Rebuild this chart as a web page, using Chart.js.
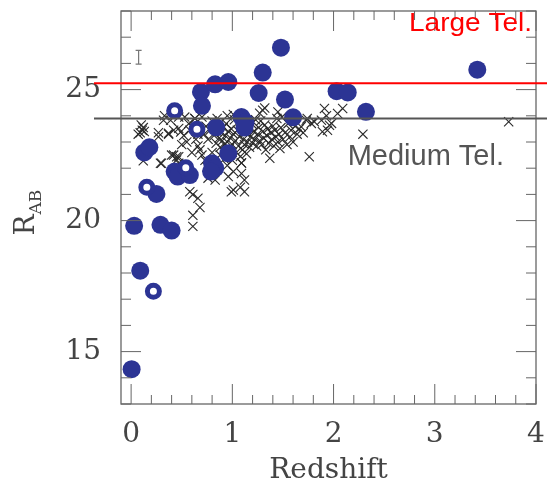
<!DOCTYPE html>
<html>
<head>
<meta charset="utf-8">
<script src="https://cdn.jsdelivr.net/npm/chart.js@4/dist/chart.umd.min.js"></script>
<style>
  html, body { margin: 0; padding: 0; background: #fff; }
  canvas { display: block; }
</style>
</head>
<body>
<canvas id="chart" width="547" height="488"></canvas>
<script>
// tick values
const xTicks = [0, 1, 2, 3, 4];
const yTicks = [15, 20, 25];

// telescope limits (R_AB)
const largeTelLimit = 25.24;
const mediumTelLimit = 23.9;

// filled circles [redshift, R_AB]
const filledZ = [0.005, 0.03, 0.09, 0.29, 0.40, 0.13, 0.18, 0.25, 0.43, 0.46, 0.58, 0.80, 0.83, 0.79, 0.96,
  0.69, 0.70, 0.83, 0.96, 1.09, 1.13, 1.12, 0.84, 1.48, 1.30, 1.26, 1.52, 1.60, 2.03, 2.14, 2.32, 3.42];
const filledR = [14.33, 19.8, 18.09, 19.84, 19.62, 22.6, 22.8, 21.02, 21.87, 21.68, 21.74, 22.19, 22.0, 21.87, 22.57,
  24.91, 24.38, 25.2, 25.29, 23.95, 23.75, 23.55, 23.56, 26.6, 25.65, 24.87, 24.62, 23.94, 24.94, 24.89, 24.15, 25.76];

// open circles
const openZ = [0.43, 0.65, 0.155, 0.54, 0.22];
const openR = [24.19, 23.49, 21.27, 22.02, 17.3];

// crosses
const crossZ = [
  0.10, 0.12, 0.11, 0.09, 0.13, 0.12, 0.07,
  0.27, 0.32, 0.39, 0.42, 0.47, 0.37, 0.63, 0.58, 0.29, 0.40, 0.45, 0.47, 0.30, 0.42, 0.47, 0.45,
  0.27, 0.37, 0.49, 0.66,
  0.70, 0.74, 0.72, 0.76, 0.78, 0.80, 0.82, 0.84, 0.85, 0.86, 0.87, 0.88, 0.89, 0.90, 0.91, 0.92,
  0.93, 0.94, 0.95, 0.96, 0.97, 0.98, 0.99, 1.00, 1.01, 1.02, 1.03, 1.04, 1.05, 1.06, 1.07, 1.08,
  1.09, 1.10, 1.11, 1.12, 1.13, 1.14, 1.15, 1.16, 1.17, 1.18, 1.19, 1.20, 1.21, 1.22, 1.23, 1.24,
  1.25, 1.26, 1.27, 1.28, 1.29, 1.30, 1.31, 1.32, 1.33, 1.34, 1.35, 1.36, 1.37, 1.38, 1.39, 1.40,
  1.41, 1.42, 1.43, 1.44, 1.45, 1.46, 1.47, 1.48, 1.50, 1.52, 1.54, 1.55, 1.57, 1.58, 1.60, 1.62,
  1.64, 1.66,
  0.62, 0.64, 0.66, 0.60, 0.55, 0.52, 0.50, 0.70, 0.73, 0.75, 0.78, 0.80, 0.68, 0.57, 0.53,
  0.92, 0.95, 1.00, 0.88,
  0.33, 0.47, 0.63, 0.85, 0.95, 1.01, 1.27, 1.30, 1.45, 1.32, 1.49, 1.74,
  1.68, 1.73, 1.78, 1.81, 1.70, 1.76, 1.88, 1.89, 1.94, 1.96, 1.91, 1.93, 2.04, 2.09, 1.98, 2.29, 3.73,
  0.58, 0.61, 0.68, 0.61, 0.61, 0.66, 0.99, 1.08, 1.12, 1.01, 1.09, 1.09, 1.12, 0.96, 1.01, 0.76, 0.83
];
const crossR = [
  23.65, 23.55, 23.45, 23.35, 23.4, 22.28, 23.3,
  23.2, 23.83, 23.83, 23.45, 23.52, 23.33, 23.9, 23.45, 22.19, 22.5, 22.44, 22.19, 22.19, 22.5, 22.44, 22.31,
  23.35, 23.3, 23.38, 23.3,
  23.95, 23.6, 23.3, 23.1, 23.45, 23.8, 23.25, 22.95, 23.4, 23.65, 23.15, 22.8, 23.35, 23.05, 23.55, 22.9,
  23.25, 23.7, 23.0, 23.4, 22.75, 23.15, 23.5, 22.9, 23.3, 23.85, 23.05, 22.6, 23.45, 22.85, 23.2, 22.45,
  22.2, 22.7, 23.1, 22.9, 23.35, 22.55, 23.0, 23.55, 22.8, 23.2, 23.7, 22.95, 23.4, 23.1, 23.85, 22.85,
  23.3, 23.55, 23.05, 23.8, 22.9, 23.4, 23.15, 23.65, 22.7, 23.25, 23.5, 22.95, 22.38, 23.35, 23.1, 23.6,
  22.85, 23.45, 23.2, 23.9, 23.0, 23.3, 22.75, 23.55, 23.1, 23.35, 22.9, 23.7, 23.2, 23.45, 23.0, 23.6,
  23.3, 23.5,
  23.55, 23.1, 22.85, 22.6, 23.0, 23.25, 22.9, 22.5, 22.3, 22.05, 21.9, 22.6, 22.7, 23.7, 23.95,
  22.35, 22.1, 22.3, 22.5,
  24.0, 23.95, 23.9, 23.9, 24.0, 24.05, 24.1, 24.21, 24.15, 24.3, 23.95, 23.9,
  23.58, 23.83, 23.71, 23.77, 23.35, 22.44, 23.83, 23.39, 23.45, 23.64, 24.28, 24.0, 24.09, 24.28, 23.71, 23.3, 23.77,
  21.1, 21.0, 20.5, 20.2, 19.78, 20.85, 21.1, 21.27, 21.1, 21.17, 22.2, 21.8, 21.55, 21.68, 21.87, 21.62, 21.55
];

// typical error bar shown near the top left
const errZ = 0.074;
const errR = [25.97, 26.5];

const BLUE = '#2c3494';
const AXIS = '#666';
const TEXT = '#444';

const toPoints = (xs, ys) => xs.map((x, i) => ({ x: x, y: ys[i] }));

const decorPlugin = {
  id: 'decor',
  afterDatasetsDraw(chart) {
    const ctx = chart.ctx;
    const area = chart.chartArea;
    const xs = chart.scales.x;
    const ys = chart.scales.y;
    ctx.save();

    // frame
    ctx.strokeStyle = AXIS;
    ctx.lineWidth = 1.3;
    ctx.strokeRect(area.left, area.top, area.right - area.left, area.bottom - area.top);

    // inward ticks on all four sides
    ctx.lineWidth = 1;
    for (let v = 0; v <= 40; v += 2) {
      const val = v / 10;
      const px = xs.getPixelForValue(val);
      const len = (v % 10 === 0) ? 20 : 9;
      ctx.beginPath();
      ctx.moveTo(px, area.bottom); ctx.lineTo(px, area.bottom - len);
      ctx.moveTo(px, area.top); ctx.lineTo(px, area.top + len);
      ctx.stroke();
    }
    for (let val = 13; val <= 28; val++) {
      const py = ys.getPixelForValue(val);
      const len = (val % 5 === 0) ? 20 : 10;
      ctx.beginPath();
      ctx.moveTo(area.left, py); ctx.lineTo(area.left + len, py);
      ctx.moveTo(area.right, py); ctx.lineTo(area.right - len, py);
      ctx.stroke();
    }

    // error bar symbol
    const ex = xs.getPixelForValue(errZ);
    const e0 = ys.getPixelForValue(errR[0]);
    const e1 = ys.getPixelForValue(errR[1]);
    ctx.strokeStyle = '#777';
    ctx.lineWidth = 1.2;
    ctx.beginPath();
    ctx.moveTo(ex, e0); ctx.lineTo(ex, e1);
    ctx.moveTo(ex - 3, e0); ctx.lineTo(ex + 3, e0);
    ctx.moveTo(ex - 3, e1); ctx.lineTo(ex + 3, e1);
    ctx.stroke();

    // telescope limit lines
    const lineStart = area.left - 27;
    ctx.lineWidth = 2;
    ctx.strokeStyle = '#ff0000';
    let py = ys.getPixelForValue(largeTelLimit);
    ctx.beginPath(); ctx.moveTo(lineStart, py); ctx.lineTo(chart.width, py); ctx.stroke();
    ctx.strokeStyle = '#555';
    py = ys.getPixelForValue(mediumTelLimit);
    ctx.beginPath(); ctx.moveTo(lineStart, py); ctx.lineTo(chart.width, py); ctx.stroke();

    // labels
    ctx.textAlign = 'right';
    ctx.textBaseline = 'alphabetic';
    ctx.fillStyle = '#ff0000';
    ctx.font = '25px "Liberation Sans", Arial, sans-serif';
    ctx.save();
    ctx.translate(532, 31);
    ctx.scale(1.12, 1);
    ctx.fillText('Large Tel.', 0, 0);
    ctx.restore();

    ctx.fillStyle = '#555';
    ctx.font = '29px "Liberation Sans", Arial, sans-serif';
    ctx.fillText('Medium Tel.', 504, 165);

    // axis titles
    ctx.fillStyle = TEXT;
    ctx.textAlign = 'center';
    ctx.font = '28px "DejaVu Serif", serif';
    ctx.fillText('Redshift', (area.left + area.right) / 2, 478);

    ctx.save();
    ctx.translate(34, 215);
    ctx.rotate(-Math.PI / 2);
    ctx.textAlign = 'left';
    ctx.font = '28px "DejaVu Serif", serif';
    const rw = ctx.measureText('R').width;
    ctx.fillText('R', -rw / 2 - 10, 0);
    ctx.font = '17px "DejaVu Serif", serif';
    ctx.fillText('AB', rw / 2 - 10, 7);
    ctx.restore();

    ctx.restore();
  }
};

new Chart(document.getElementById('chart'), {
  type: 'scatter',
  data: {
    datasets: [
      {
        label: 'open',
        data: toPoints(openZ, openR),
        pointStyle: 'circle',
        pointRadius: 6,
        backgroundColor: '#fff',
        borderColor: BLUE,
        borderWidth: 5
      },
      {
        label: 'filled',
        data: toPoints(filledZ, filledR),
        pointStyle: 'circle',
        pointRadius: 9,
        backgroundColor: BLUE,
        borderColor: BLUE,
        borderWidth: 0
      },
      {
        label: 'crosses',
        data: toPoints(crossZ, crossR),
        pointStyle: 'crossRot',
        pointRadius: 6.5,
        borderColor: '#2a2a2a',
        borderWidth: 1.1
      }
    ]
  },
  options: {
    responsive: false,
    animation: false,
    devicePixelRatio: 1,
    layout: { padding: { top: 11, right: 9, left: 0, bottom: 0 } },
    plugins: {
      legend: { display: false },
      tooltip: { enabled: false }
    },
    scales: {
      x: {
        type: 'linear',
        min: -0.1,
        max: 4,
        afterBuildTicks: (scale) => { scale.ticks = xTicks.map(v => ({ value: v })); },
        afterFit: (scale) => {
          scale.height = 84;
          scale.paddingLeft = 0; scale.paddingRight = 0;
          scale.paddingTop = 0; scale.paddingBottom = 0;
        },
        grid: { display: false, drawTicks: false },
        border: { display: false },
        ticks: {
          padding: 14,
          color: TEXT,
          font: { family: '"DejaVu Serif", serif', size: 28 }
        }
      },
      y: {
        type: 'linear',
        min: 13,
        max: 28,
        afterBuildTicks: (scale) => { scale.ticks = yTicks.map(v => ({ value: v })); },
        afterFit: (scale) => {
          scale.width = 121;
          scale.paddingLeft = 0; scale.paddingRight = 0;
          scale.paddingTop = 0; scale.paddingBottom = 0;
        },
        grid: { display: false, drawTicks: false },
        border: { display: false },
        ticks: {
          padding: 20,
          color: TEXT,
          font: { family: '"DejaVu Serif", serif', size: 28 }
        }
      }
    }
  },
  plugins: [decorPlugin]
});
</script>
</body>
</html>
